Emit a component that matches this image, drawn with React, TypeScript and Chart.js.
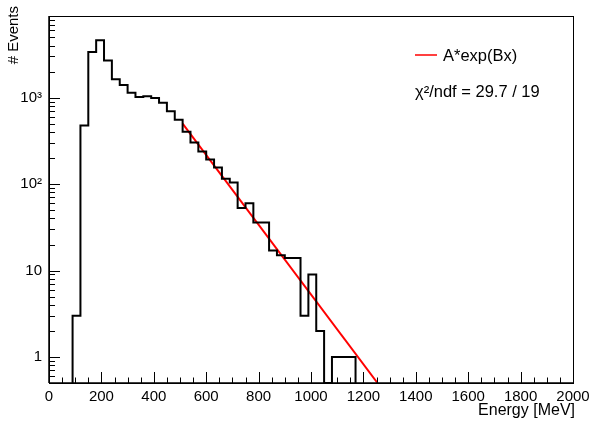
import { useEffect, useRef } from 'react';
import { Chart, registerables } from 'chart.js';

Chart.register(...registerables);

// ---- data ----
const binWidth = 30; // MeV
const binLowEdges = [
  90, 120, 150, 180, 210, 240, 270, 300, 330, 360, 390, 420,
  450, 480, 510, 540, 570, 600, 630, 660, 690, 720, 750, 780,
  810, 840, 870, 900, 930, 960, 990, 1020, 1050, 1080, 1110, 1140,
];
const counts = [
  3, 477, 3364, 4625, 2682, 1637, 1402, 1138, 1018, 1037, 992, 871,
  696, 556, 403, 303, 238, 193, 156, 115, 104, 53, 60, 36,
  36, 17, 15, 14, 14, 3, 9, 2, 0, 1, 1, 1,
];
const fitX = [510, 1254];
const fitY = [501, 0.5];
const xTickValues = [0, 200, 400, 600, 800, 1000, 1200, 1400, 1600, 1800, 2000];
const yTickValues = [1, 10, 100, 1000];
const yTickLabels = ['1', '10', '10\u00B2', '10\u00B3'];
const legendLabel = 'A*exp(Bx)';
const chi2Label = '\u03C7\u00B2/ndf = 29.7 / 19';
const xTitle = 'Energy [MeV]';
const yTitle = '# Events';

const X_MIN = 0;
const X_MAX = 2000;
const Y_MIN = 0.5;
const Y_MAX = 8800;

const FONT = '"Liberation Sans", Arial, Helvetica, sans-serif';

export default function App() {
  const ref = useRef<HTMLCanvasElement | null>(null);

  useEffect(() => {
    const canvas = ref.current;
    if (!canvas) return;

    const histPts: { x: number; y: number }[] = [];
    histPts.push({ x: binLowEdges[0], y: Y_MIN });
    binLowEdges.forEach((lo, i) => {
      const c = counts[i] > 0 ? counts[i] : Y_MIN;
      histPts.push({ x: lo, y: c });
      histPts.push({ x: lo + binWidth, y: c });
    });
    histPts.push({ x: binLowEdges[binLowEdges.length - 1] + binWidth, y: Y_MIN });

    const fitPts = fitX.map((x, i) => ({ x, y: fitY[i] }));

    const rootPlugin = {
      id: 'rootStyle',
      afterDraw(chart: any) {
        const { ctx, chartArea: a, scales } = chart;
        const xs = scales.x;
        const ys = scales.y;
        ctx.save();
        ctx.strokeStyle = '#000';
        ctx.lineWidth = 1;
        ctx.beginPath();
        // x ticks (inside, from bottom)
        for (let v = X_MIN; v <= X_MAX; v += 50) {
          const px = Math.round(xs.getPixelForValue(v)) + 0.5;
          const len = v % 200 === 0 ? 11 : 5.5;
          ctx.moveTo(px, a.bottom);
          ctx.lineTo(px, a.bottom - len);
        }
        // y ticks (inside, from left)
        for (let d = -1; d <= 3; d++) {
          for (let k = 1; k <= 9; k++) {
            const v = k * Math.pow(10, d);
            if (v < Y_MIN || v > Y_MAX) continue;
            const py = Math.round(ys.getPixelForValue(v)) + 0.5;
            const len = k === 1 ? 11 : 6;
            ctx.moveTo(a.left, py);
            ctx.lineTo(a.left + len, py);
          }
        }
        ctx.stroke();
        // frame
        ctx.lineWidth = 1;
        ctx.strokeRect(Math.round(a.left) + 0.5, Math.round(a.top) + 0.5,
          Math.round(a.right - a.left), Math.round(a.bottom - a.top));
        ctx.lineWidth = 1.5;
        ctx.beginPath();
        ctx.moveTo(a.left, a.bottom);
        ctx.lineTo(a.right, a.bottom);
        ctx.moveTo(a.left, a.top);
        ctx.lineTo(a.left, a.bottom);
        ctx.stroke();

        // legend
        ctx.strokeStyle = '#ff0000';
        ctx.lineWidth = 1.5;
        ctx.beginPath();
        ctx.moveTo(415, 55);
        ctx.lineTo(437, 55);
        ctx.stroke();
        ctx.fillStyle = '#000';
        ctx.font = `16.5px ${FONT}`;
        ctx.textAlign = 'left';
        ctx.textBaseline = 'middle';
        ctx.fillText(legendLabel, 443, 56);
        ctx.fillText(chi2Label, 415, 92);

        // axis titles
        ctx.font = `16px ${FONT}`;
        ctx.textAlign = 'right';
        ctx.textBaseline = 'middle';
        ctx.fillText(xTitle, 575, 411);

        ctx.save();
        ctx.font = `15px ${FONT}`;
        ctx.translate(14, 6);
        ctx.rotate(-Math.PI / 2);
        ctx.textAlign = 'right';
        ctx.textBaseline = 'middle';
        ctx.fillText(yTitle, 0, 0);
        ctx.restore();

        ctx.restore();
      },
    };

    const chart = new Chart(canvas, {
      type: 'line',
      data: {
        datasets: [
          {
            label: 'hist',
            data: histPts,
            borderColor: '#000000',
            borderWidth: 2,
            pointRadius: 0,
            tension: 0,
            fill: false,
            borderJoinStyle: 'miter',
          } as any,
          {
            label: legendLabel,
            data: fitPts,
            borderColor: '#ff0000',
            borderWidth: 2,
            pointRadius: 0,
            tension: 0,
            fill: false,
          } as any,
        ],
      },
      options: {
        responsive: false,
        animation: false,
        events: [],
        layout: { padding: { left: 0, top: 7, right: 24, bottom: 0 } },
        plugins: {
          legend: { display: false },
          tooltip: { enabled: false },
          title: { display: false },
        },
        scales: {
          x: {
            type: 'linear',
            min: X_MIN,
            max: X_MAX,
            grid: { display: false, drawTicks: false },
            border: { display: false },
            afterBuildTicks: (scale: any) => {
              scale.ticks = xTickValues.map((v) => ({ value: v }));
            },
            afterFit: (scale: any) => {
              scale.height = 46;
            },
            ticks: {
              autoSkip: false,
              maxRotation: 0,
              minRotation: 0,
              padding: 5,
              color: '#000',
              font: { family: FONT, size: 15 },
              callback: (v: any) => String(v),
            },
          },
          y: {
            type: 'logarithmic',
            min: Y_MIN,
            max: Y_MAX,
            grid: { display: false, drawTicks: false },
            border: { display: false },
            afterBuildTicks: (scale: any) => {
              scale.ticks = yTickValues.map((v) => ({ value: v }));
            },
            afterFit: (scale: any) => {
              scale.width = 49;
            },
            ticks: {
              autoSkip: false,
              padding: 7,
              color: '#000',
              font: { family: FONT, size: 15 },
              callback: (v: any) => {
                const i = yTickValues.indexOf(Number(v));
                return i >= 0 ? yTickLabels[i] : '';
              },
            },
          },
        },
      },
      plugins: [rootPlugin],
    });

    return () => chart.destroy();
  }, []);

  return (
    <div style={{ position: 'fixed', left: 0, top: 0, width: 597, height: 429, background: '#fff' }}>
      <canvas ref={ref} width={597} height={429} style={{ display: 'block', width: 597, height: 429 }} />
    </div>
  );
}
